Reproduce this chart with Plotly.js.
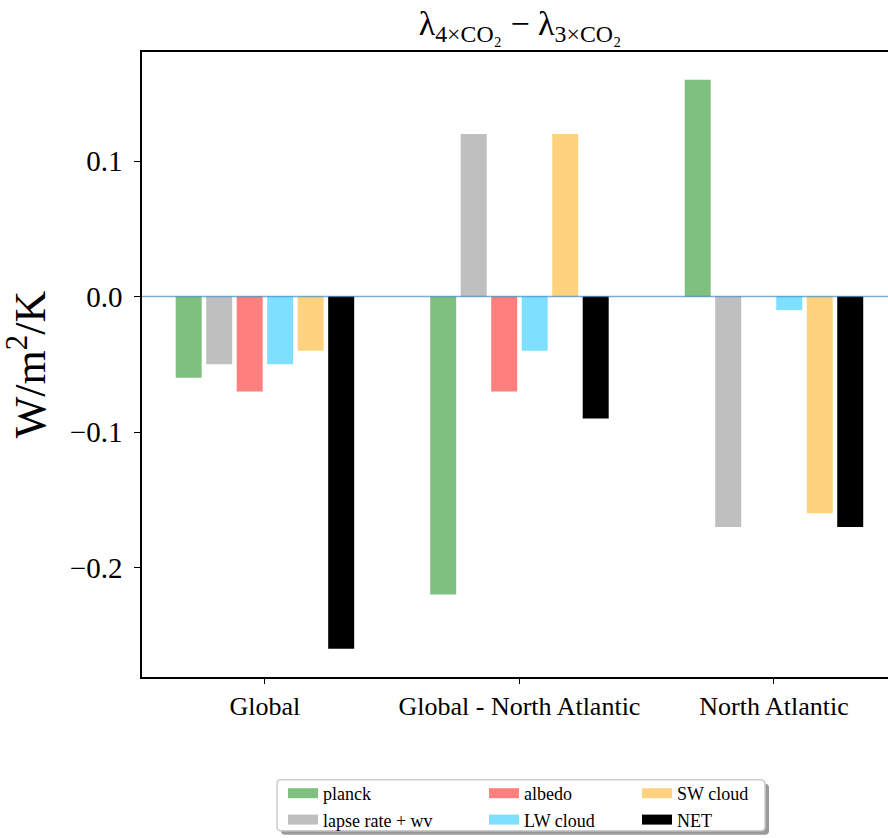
<!DOCTYPE html>
<html>
<head>
<meta charset="utf-8">
<script src="https://cdn.plot.ly/plotly-3.0.1.min.js"></script>
<style>
  html, body { margin: 0; padding: 0; background: #ffffff; overflow: hidden; }
  #chart { width: 888px; height: 838px; }
</style>
</head>
<body>
<div id="chart"></div>
<script>
// Feedback-parameter differences, lambda(4xCO2) - lambda(3xCO2), W/m^2/K
const regions = ["Global", "Global - North Atlantic", "North Atlantic"];

const planck   = [-0.06, -0.22,  0.16];
const lapseWv  = [-0.05,  0.12, -0.17];
const albedo   = [-0.07, -0.07,  0.00];
const lwCloud  = [-0.05, -0.04, -0.01];
const swCloud  = [-0.04,  0.12, -0.16];
const net      = [-0.26, -0.09, -0.17];

const seriesNames = ["planck", "lapse rate + wv", "albedo", "LW cloud", "SW cloud", "NET"];
const seriesValues = [planck, lapseWv, albedo, lwCloud, swCloud, net];
const seriesColors = ["#7fbf7f", "#bfbfbf", "#ff7f7f", "#7fdfff", "#ffd27f", "#000000"];
// legend column each series is listed in
const seriesLegend = ["legend", "legend", "legend2", "legend2", "legend3", "legend3"];

const W = 888, H = 838;
const M = { l: 142, r: 0, t: 52, b: 160 };
const plotW = W - M.l - M.r, plotH = H - M.t - M.b;
const px = x => (x - M.l) / plotW;          // pixel -> paper x
const py = y => (H - M.b - y) / plotH;      // pixel -> paper y

const serif = "'Liberation Serif', 'DejaVu Serif', serif";

const traces = [];
seriesNames.forEach((name, i) => {
  traces.push({
    type: "bar",
    name: name,
    x: regions,
    y: seriesValues[i],
    marker: { color: seriesColors[i], line: { width: 0 } },
    legendgroup: name,
    showlegend: false,
    hoverinfo: "x+y+name"
  });
});
// wide swatches for the legend entries
seriesNames.forEach((name, i) => {
  traces.push({
    type: "scatter",
    mode: "lines",
    name: name,
    x: [null],
    y: [null],
    line: { color: seriesColors[i], width: 12 },
    legendgroup: name,
    legend: seriesLegend[i],
    showlegend: true,
    hoverinfo: "skip"
  });
});

const legendBase = {
  orientation: "v",
  xanchor: "left",
  yanchor: "top",
  bgcolor: "rgba(0,0,0,0)",
  borderwidth: 0,
  font: { family: serif, size: 18, color: "#000" },
  tracegroupgap: 0,
  itemclick: "toggle"
};

// rounded legend frame
function roundedRect(x0, y0, x1, y1, r) {
  return `M${px(x0 + r)},${py(y0)} L${px(x1 - r)},${py(y0)} Q${px(x1)},${py(y0)} ${px(x1)},${py(y0 + r)} ` +
         `L${px(x1)},${py(y1 - r)} Q${px(x1)},${py(y1)} ${px(x1 - r)},${py(y1)} ` +
         `L${px(x0 + r)},${py(y1)} Q${px(x0)},${py(y1)} ${px(x0)},${py(y1 - r)} ` +
         `L${px(x0)},${py(y0 + r)} Q${px(x0)},${py(y0)} ${px(x0 + r)},${py(y0)} Z`;
}

const layout = {
  width: W,
  height: H,
  margin: M,
  paper_bgcolor: "#ffffff",
  plot_bgcolor: "#ffffff",
  barmode: "group",
  bargap: 0.281,
  bargroupgap: 0.148,
  title: {
    text: "λ<sub>4×CO₂</sub> − λ<sub>3×CO₂</sub>",
    font: { family: serif, size: 34, color: "#000" },
    xref: "container",
    x: 520 / W,
    xanchor: "center",
    yref: "container",
    y: 1 - 23 / H,
    yanchor: "middle"
  },
  xaxis: {
    type: "category",
    range: [-0.483, 2.448],
    showline: true,
    mirror: true,
    linecolor: "#000",
    linewidth: 1.5,
    ticks: "outside",
    ticklen: 5,
    tickwidth: 1,
    tickcolor: "#000",
    showgrid: false,
    zeroline: false,
    tickfont: { family: serif, size: 26, color: "#000" },
    fixedrange: true
  },
  yaxis: {
    range: [-0.2808, 0.1805],
    tick0: 0,
    dtick: 0.1,
    tickformat: ".1f",
    showline: true,
    mirror: false,
    linecolor: "#000",
    linewidth: 1.5,
    ticks: "outside",
    ticklen: 6,
    tickwidth: 1,
    tickcolor: "#000",
    ticklabelstandoff: 6,
    showgrid: false,
    zeroline: false,
    tickfont: { family: serif, size: 29, color: "#000" },
    title: {
      text: "W/m<sup>2</sup>/K",
      font: { family: serif, size: 44, color: "#000" },
      standoff: 10
    },
    automargin: false,
    fixedrange: true
  },
  shapes: [
    // zero reference line
    {
      type: "line", xref: "paper", yref: "y",
      x0: 0, x1: 1, y0: 0, y1: 0,
      line: { color: "rgba(31,119,180,0.6)", width: 1.5 },
      layer: "above"
    },
    // legend frame shadow
    {
      type: "path", xref: "paper", yref: "paper",
      path: roundedRect(281, 785, 769, 836, 4),
      fillcolor: "#9a9a9a", line: { width: 0 }, layer: "above"
    },
    // legend frame
    {
      type: "path", xref: "paper", yref: "paper",
      path: roundedRect(277, 781, 765, 832, 4),
      fillcolor: "#ffffff", line: { color: "#cccccc", width: 1.5 }, layer: "above"
    }
  ],
  legend:  Object.assign({}, legendBase, { x: px(283), y: py(776) }),
  legend2: Object.assign({}, legendBase, { x: px(484), y: py(776) }),
  legend3: Object.assign({}, legendBase, { x: px(637), y: py(776) }),
  showlegend: true
};

Plotly.newPlot("chart", traces, layout, { displayModeBar: false, responsive: false });
</script>
</body>
</html>
